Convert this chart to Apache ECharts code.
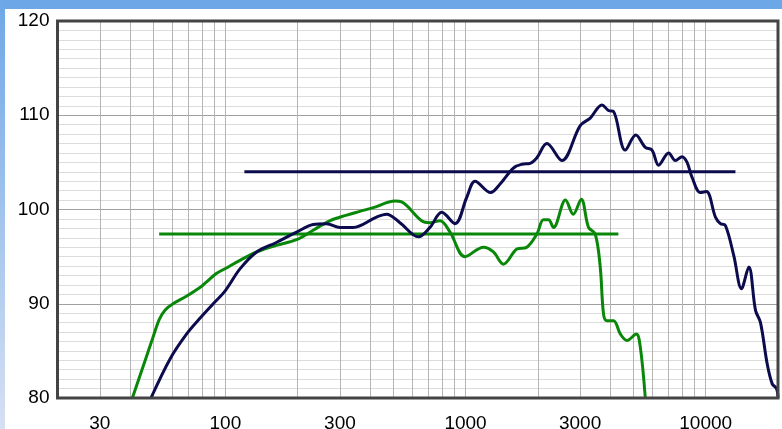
<!DOCTYPE html>
<html>
<head>
<meta charset="utf-8">
<script src="https://cdn.jsdelivr.net/npm/echarts@6/dist/echarts.min.js"></script>
<style>
html,body{margin:0;padding:0;background:#fff;}
#chart{width:782px;height:429px;}
</style>
</head>
<body>
<div id="chart"></div>
<script>
// Frequency (Hz) / level (dB) readings
const navyFreq = [49,59,69,78,89,100,115,135,163,198,232,264,300,340,426,469,533,636,711,796,904,1012,1096,1271,1393,1582,1716,1858,1982,2181,2518,3003,3306,3698,3940,4133,4625,5116,5604,5977,6368,7010,7476,7972,8364,8775,9506,10070,10977,11516,12084,13089,14090,15112,16122,16910,18036,18924,19722,20000];
const navyDb   = [80,84.2,86.8,88.4,90.0,91.4,93.7,95.5,96.5,97.6,98.4,98.5,98.1,98.1,99.2,99.5,98.6,97.1,98.1,99.7,98.5,101.3,103.0,101.8,102.7,104.4,104.8,104.9,105.5,107.0,105.2,108.9,109.7,111.1,110.5,110.4,106.3,107.9,106.6,106.3,104.7,106.0,105.2,105.6,105.0,103.4,101.8,101.9,99.2,98.5,98.3,95.1,91.6,93.9,89.3,88.0,83.6,81.5,81.0,80.0];

const greenFreq = [41,46.8,49.9,53.2,56.4,60.5,68.8,78.1,83.3,91.7,101,115,135,163,198,232,272,320,363,413,508,542,657,711,783,862,995,1187,1306,1438,1635,1800,1982,2111,2215,2324,2608,2808,3032,3251,3467,3638,3755,3880,4133,4409,4701,5140,5342,5604];
const greenDb   = [80,84.3,86.4,88.4,89.4,90.0,90.8,91.7,92.3,93.2,93.8,94.6,95.5,96.2,96.8,97.8,98.8,99.4,99.8,100.2,100.9,100.8,98.8,98.6,98.8,97.6,95.0,96.0,95.5,94.2,95.8,96.0,97.4,98.9,98.9,98.1,101.0,99.5,101.1,98.1,97.4,93.9,88.9,88.2,88.2,86.8,86.1,86.8,85.4,80.0];

// Average level lines
const navyAvgFreq = [120, 13300];
const navyAvgDb = 104;
const greenAvgFreq = [53, 4330];
const greenAvgDb = 97.4;

// Axis ticks
const xGridFreqs = [30,40,50,60,70,80,90,100,200,300,400,500,600,700,800,900,1000,2000,3000,4000,5000,6000,7000,8000,9000,10000];
const xLabelFreqs = [30,100,300,1000,3000,10000];
const yMin = 80, yMax = 120, yStep = 10;

const zip = (xs, ys) => xs.map((x, i) => [x, ys[i]]);

const chart = echarts.init(document.getElementById('chart'), null, {renderer: 'canvas'});
const NAVY = '#0b0b4e';
const GREEN = '#098709';
const FONT = 'Liberation Sans, Arial, sans-serif';
const G = {left: 57.5, right: 4, top: 21, bottom: 31};

chart.setOption({
  animation: false,
  backgroundColor: '#ffffff',
  graphic: [
    {type: 'rect', left: 0, top: 0, shape: {width: 782, height: 9}, style: {fill: '#6ea7e7'}, z: 100},
    {type: 'rect', left: 0, top: 0, shape: {width: 5, height: 429},
      style: {fill: new echarts.graphic.LinearGradient(0, 0, 0, 1, [
        {offset: 0, color: '#6ea7e7'}, {offset: 1, color: '#d6e0f3'}])}, z: 100},
    {type: 'rect', x: 0, y: 0,
      shape: {x: G.left, y: G.top, width: 782 - G.left - G.right, height: 429 - G.top - G.bottom},
      style: {fill: null, stroke: '#444444', lineWidth: 3}, z: 100, silent: true}
  ],
  grid: {left: G.left, right: G.right, top: G.top, bottom: G.bottom, show: false, containLabel: false, outerBoundsMode: 'none'},
  xAxis: {
    type: 'log', logBase: 10, min: 20, max: 20000,
    axisLine: {show: false},
    axisTick: {show: false, customValues: xGridFreqs},
    axisLabel: {customValues: xLabelFreqs, fontSize: 19, color: '#000', fontFamily: FONT, margin: 16,
      formatter: v => String(Math.round(v))},
    splitLine: {show: true, lineStyle: {color: '#b4b4b4', width: 1}},
    minorTick: {show: false}, minorSplitLine: {show: false}
  },
  yAxis: {
    type: 'value', min: yMin, max: yMax, interval: yStep,
    axisLine: {show: false}, axisTick: {show: false},
    axisLabel: {fontSize: 19, color: '#000', fontFamily: FONT, margin: 8},
    splitLine: {show: true, lineStyle: {color: '#a0a0a0', width: 1}},
    minorTick: {show: false, splitNumber: 10},
    minorSplitLine: {show: true, lineStyle: {color: '#dcdcdc', width: 1}}
  },
  series: [
    {type: 'line', data: navyAvgFreq.map(f => [f, navyAvgDb]), symbol: 'none', lineStyle: {color: NAVY, width: 3}, z: 3},
    {type: 'line', data: greenAvgFreq.map(f => [f, greenAvgDb]), symbol: 'none', lineStyle: {color: GREEN, width: 3}, z: 3},
    {type: 'line', data: zip(greenFreq, greenDb), symbol: 'none', smooth: 0.35, lineStyle: {color: GREEN, width: 3}, z: 4},
    {type: 'line', data: zip(navyFreq, navyDb), symbol: 'none', smooth: 0.35, lineStyle: {color: NAVY, width: 3}, z: 5}
  ]
});
</script>
</body>
</html>
